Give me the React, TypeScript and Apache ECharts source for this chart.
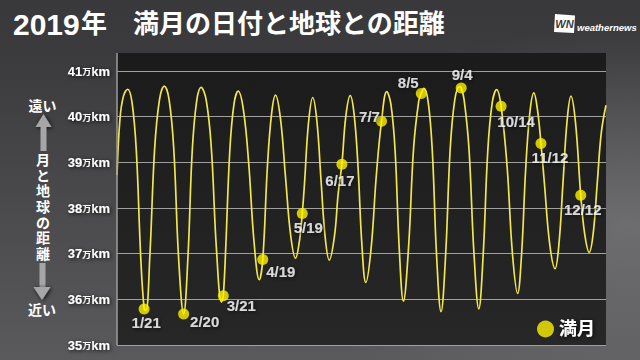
import { useEffect, useRef } from "react";
import * as echarts from "echarts";

// Earth–Moon distance through 2019 in 万km; day = days since 2019-01-01 00:00
const distanceDay = [
  0, 2.2, 4.8, 7.9, 11.2, 14.4, 17.6, 20.2, 21.6, 24.5, 28.0, 31.6, 35.2, 38.8, 42.3, 45.8,
  49.6, 52.8, 56.0, 59.3, 62.6, 66.4, 70.2, 74.0, 77.8, 79.1, 80.9, 84.0, 87.1, 90.2, 94.1,
  98.0, 102.0, 105.9, 108.5, 112.0, 115.1, 118.0, 121.7, 125.4, 129.2, 132.9, 136.0, 137.9,
  139.6, 142.5, 145.7, 148.8, 151.8, 154.9, 158.0, 161.9, 164.6, 167.4, 170.3, 173.6, 176.5,
  179.4, 182.3, 185.2, 189.1, 193.0, 196.9, 200.8, 203.9, 207.0, 210.1, 213.2, 217.0, 220.8,
  224.6, 226.5, 228.4, 231.6, 234.7, 237.9, 241.2, 244.6, 248.0, 251.4, 254.8, 256.2, 258.4,
  262.0, 265.7, 269.3, 272.6, 276.0, 279.3, 282.6, 285.9, 290.4, 294.3, 298.2, 301.2, 304.2,
  307.3, 310.3, 313.0, 315.6, 318.2, 322.1, 326.1, 329.0, 332.0, 335.0, 337.9, 341.3, 345.2,
  348.1, 351.5, 354.5, 357.5, 360.5, 364.0,
];
const distanceMan = [
  38.72, 39.95, 40.45, 40.6, 40.31, 39.24, 36.96, 35.79, 35.76, 36.98, 39.29, 40.37, 40.67, 40.37,
  39.27, 36.93, 35.68, 36.92, 39.25, 40.34, 40.64, 40.36, 39.32, 37.11, 35.94, 36.08, 37.1, 39.27,
  40.28, 40.56, 40.15, 38.99, 37.26, 36.43, 36.87, 38.93, 40.07, 40.47, 39.95, 38.69, 37.42, 36.9,
  37.32, 37.88, 38.55, 39.85, 40.42, 39.9, 38.64, 37.38, 36.86, 37.39, 38.3, 38.96, 40.0, 40.46,
  40.05, 38.91, 37.19, 36.37, 37.1, 38.7, 39.9, 40.55, 40.27, 39.26, 37.11, 35.96, 37.13, 39.32,
  40.34, 40.51, 40.62, 40.33, 39.25, 36.95, 35.73, 36.96, 39.28, 40.36, 40.66, 40.63, 40.37, 39.3,
  37.01, 35.79, 36.99, 39.25, 40.3, 40.59, 40.23, 38.9, 37.02, 36.13, 37.01, 38.85, 40.08, 40.52,
  40.15, 39.41, 38.52, 37.21, 36.67, 37.22, 38.56, 39.9, 40.45, 39.87, 38.28, 37.44, 37.03, 37.45,
  38.55, 39.65, 40.25,
];

// Full moons of 2019
const fullMoonDay = [20.2, 49.6, 79.1, 108.5, 137.9, 167.4, 196.9, 226.5, 256.2, 285.9, 315.6, 345.2];
const fullMoonMan = [35.79, 35.68, 36.08, 36.87, 37.88, 38.96, 39.9, 40.51, 40.63, 40.23, 39.41, 38.28];
const fullMoonLabel = ["1/21", "2/20", "3/21", "4/19", "5/19", "6/17", "7/7", "8/5", "9/4", "10/14", "11/12", "12/12"];

// Axis range (万km)
const yMin = 35;
const yMax = 41;
const yStep = 1;

// Where each date label sits relative to its dot
const labelOffset: [number, number][] = [
  [2, 14], [21, 8], [18, 10], [18, 12], [6, 14], [-2, 16],
  [-12, -5], [-13, -11], [1, -13], [15, 15], [9, 14], [2, 14],
];

const FONT = '"Liberation Sans", "Noto Sans CJK JP", sans-serif';
const SHADOW = { shadowColor: "rgba(0,0,0,0.85)", shadowBlur: 4, shadowOffsetX: 1, shadowOffsetY: 1 };
const TEXT_SHADOW = { textShadowColor: "rgba(0,0,0,0.85)", textShadowBlur: 4, textShadowOffsetX: 1, textShadowOffsetY: 1 };

function txt(x: number, y: number, text: string, font: string, align = "left", vAlign = "middle", extra: any = {}) {
  return {
    type: "text",
    x,
    y,
    z: 20,
    silent: true,
    style: {
      text,
      font,
      fill: "#ffffff",
      align,
      verticalAlign: vAlign,
      textAlign: align,
      textVerticalAlign: vAlign,
      ...SHADOW,
      ...extra,
    },
  };
}

export default function App() {
  const ref = useRef<HTMLDivElement>(null);

  useEffect(() => {
    const chart = echarts.init(ref.current!, null, { renderer: "svg" });
    const lineData = distanceDay.map((d, i) => [d, distanceMan[i]]);
    const moonData = fullMoonDay.map((d, i) => ({
      value: [d, fullMoonMan[i]],
      label: { offset: labelOffset[i] },
    }));

    const arrowFill = "#a6a6a6";

    chart.setOption({
      animation: false,
      backgroundColor: "#3b3b3d",
      grid: { left: 117, right: 34, top: 71, bottom: 15 },
      xAxis: { type: "value", min: 0, max: 364, show: false },
      yAxis: {
        type: "value",
        min: yMin,
        max: yMax,
        interval: yStep,
        axisLine: { show: false },
        axisTick: { show: false },
        splitLine: { lineStyle: { color: "#a0a0a0", width: 1 } },
        axisLabel: {
          margin: 7,
          formatter: (v: number) => `{n|${v}}{u|万}{k|km}`,
          rich: {
            n: { fontSize: 13, fontWeight: "bold", color: "#fff", fontFamily: FONT, verticalAlign: "bottom", ...TEXT_SHADOW },
            u: { fontSize: 9, fontWeight: "bold", color: "#fff", fontFamily: FONT, verticalAlign: "bottom", padding: [0, 0, 1, 0], ...TEXT_SHADOW },
            k: { fontSize: 13, fontWeight: "bold", color: "#fff", fontFamily: FONT, verticalAlign: "bottom", ...TEXT_SHADOW },
          },
        },
      },
      legend: {
        data: [{ name: "満月", icon: "circle" }],
        left: 532,
        top: 315,
        itemWidth: 17,
        itemHeight: 17,
        selectedMode: false,
        textStyle: { color: "#fff", fontSize: 18, fontWeight: "bold", fontFamily: FONT, ...TEXT_SHADOW },
      },
      graphic: {
        elements: [
          {
            type: "rect",
            z: -30,
            silent: true,
            shape: { x: 0, y: 0, width: 640, height: 360 },
            style: {
              fill: new echarts.graphic.LinearGradient(0, 0, 0, 1, [
                { offset: 0, color: "#39393b" },
                { offset: 0.15, color: "#3b3b3d" },
                { offset: 1, color: "#5a5a5c" },
              ]),
            },
          },
          {
            type: "rect",
            z: -29,
            silent: true,
            shape: { x: 0, y: 0, width: 640, height: 360 },
            style: {
              fill: new echarts.graphic.RadialGradient(0.98, 0.62, 0.55, [
                { offset: 0, color: "rgba(150,150,152,0.45)" },
                { offset: 1, color: "rgba(150,150,152,0)" },
              ]),
            },
          },
          {
            type: "rect",
            z: -28,
            silent: true,
            shape: { x: 117, y: 53, width: 489, height: 292 },
            style: {
              fill: new echarts.graphic.LinearGradient(0, 0, 0, 1, [
                { offset: 0, color: "#1b1b1c" },
                { offset: 1, color: "#272728" },
              ]),
            },
          },
          {
            type: "line",
            z: 10,
            silent: true,
            shape: { x1: 117, y1: 53, x2: 117, y2: 345 },
            style: { stroke: "#9c9c9c", lineWidth: 1.5 },
          },
          // title
          txt(13, 24, "2019", `bold 30px ${FONT}`),
          txt(81, 24, "年　満月の日付と地球との距離", `bold 26px ${FONT}`),
          // brand mark
          {
            type: "polygon",
            z: 20,
            silent: true,
            shape: { points: [[555, 14], [575, 15.5], [574, 33], [554, 32]] },
            style: { fill: "#ffffff" },
          },
          txt(564.5, 24, "WN", `italic bold 11px ${FONT}`, "center", "middle", { fill: "#3b3b3d", shadowBlur: 0, shadowColor: "transparent" }),
          txt(577, 27, "weathernews", `italic bold 9.5px ${FONT}`, "left", "middle", { shadowBlur: 0, shadowColor: "transparent" }),
          // side annotation: far ↑ distance ↓ near
          txt(42.5, 106, "遠い", `bold 14px ${FONT}`, "center"),
          {
            type: "polygon",
            z: 20,
            silent: true,
            shape: { points: [[35.5, 127], [51.5, 127], [43.5, 114]] },
            style: { fill: arrowFill, ...SHADOW },
          },
          {
            type: "rect",
            z: 20,
            silent: true,
            shape: { x: 40.5, y: 126, width: 6, height: 25 },
            style: { fill: arrowFill },
          },
          txt(43, 152, "月\nと\n地\n球\nの\n距\n離", `bold 14px ${FONT}`, "center", "top", { lineHeight: 15.7 }),
          {
            type: "rect",
            z: 20,
            silent: true,
            shape: { x: 39.5, y: 263, width: 6, height: 25 },
            style: { fill: arrowFill },
          },
          {
            type: "polygon",
            z: 20,
            silent: true,
            shape: { points: [[33.5, 287], [50.5, 287], [42, 300]] },
            style: { fill: arrowFill, ...SHADOW },
          },
          txt(42, 309.5, "近い", `bold 14px ${FONT}`, "center"),
        ],
      },
      series: [
        {
          type: "line",
          data: lineData,
          smooth: 0.4,
          symbol: "none",
          showSymbol: false,
          lineStyle: { color: "#f1e64c", width: 1.7 },
          z: 3,
        },
        {
          type: "scatter",
          name: "満月",
          data: moonData,
          symbolSize: 11,
          itemStyle: { color: "#fff100" },
          z: 4,
          label: {
            show: true,
            position: "inside",
            formatter: (p: any) => fullMoonLabel[p.dataIndex],
            color: "#ffffff",
            fontSize: 15,
            fontWeight: "bold",
            fontFamily: FONT,
            ...TEXT_SHADOW,
          },
        },
      ],
    });

    return () => chart.dispose();
  }, []);

  return <div ref={ref} style={{ position: "fixed", left: 0, top: 0, width: 640, height: 360 }} />;
}
